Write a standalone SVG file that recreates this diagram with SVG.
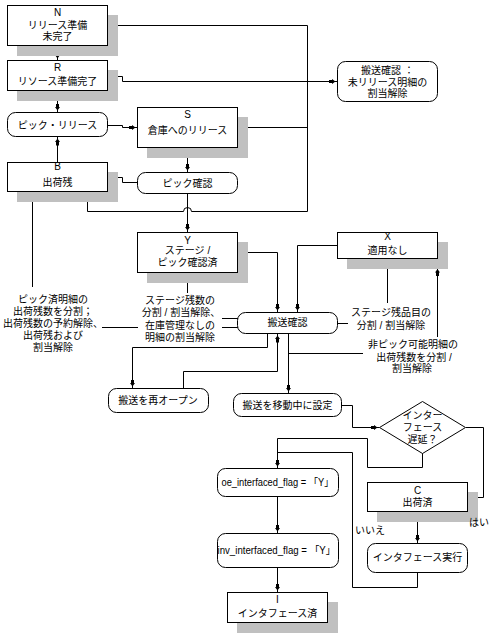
<svg xmlns="http://www.w3.org/2000/svg" width="491" height="640" viewBox="0 0 491 640">
<style>
.bx{fill:#fff;stroke:#000;stroke-width:1}
.sh{fill:#c0c0c0}
.ln{fill:none;stroke:#000;stroke-width:1}
.a{marker-end:url(#ah)}
.a2{marker-start:url(#ah);marker-end:url(#ah)}
text{font-family:"Liberation Sans","Noto Sans CJK JP",sans-serif;font-size:10px;text-anchor:middle;fill:#000}
.s{font-size:10px}
</style>
<defs>
<marker id="ah" markerUnits="userSpaceOnUse" markerWidth="9" markerHeight="6" viewBox="0 0 9 6" refX="9" refY="3" orient="auto-start-reverse">
<path d="M0,1.5 H3.5 V0.5 L7,3 L3.5,5.5 V4.5 H0 Z" fill="#000"/>
</marker>
</defs>
<rect width="491" height="640" fill="#fff"/>

<g id="connectors">
<path class="ln a" d="M57.5,45.5 V60.5"/>
<path class="ln a" d="M57.5,90.5 V112.5"/>
<path class="ln a" d="M57.5,162.5 V136.5"/>
<path class="ln a" d="M107.5,125.5 H122.5 V127.5 H137.5"/>
<path class="ln a" d="M187.5,147.5 V172.5"/>
<path class="ln a" d="M137.5,182.5 H122.5 V177.5 H107.5"/>
<path class="ln a" d="M187.5,193.5 V232.5"/>
<path class="ln a2" d="M87.5,193 V211.5 H183.5 A4,4 0 0 1 191.5,211.5 H307.5 V25.5 H107.5"/>
<path class="ln a" d="M307.5,127.5 H237.5"/>
<path class="ln a2" d="M107.5,76.5 H122.5 V81.5 H337.5"/>
<path class="ln a" d="M237.5,252.5 H277.5 V312.5"/>
<path class="ln a" d="M337.5,245.5 H297.5 V312.5"/>
<path class="ln" d="M238,327.5 H222 M138,327.5 H102"/>
<path class="ln" d="M222,318.5 H238"/>
<path class="ln a" d="M187.5,293 V272.5"/>
<path class="ln a" d="M32.5,287 V193"/>
<path class="ln a" d="M267.5,333.5 V347.5 H132.5 V388.5"/>
<path class="ln a" d="M183.5,388.5 V371.5 H277.5 V333.5"/>
<path class="ln a" d="M288.5,333.5 V393.5"/>
<path class="ln" d="M288.5,353.5 H363"/>
<path class="ln" d="M337,323.5 H348"/>
<path class="ln a" d="M387.5,303 V258.5"/>
<path class="ln a" d="M437.5,337 V267"/>
<path class="ln a" d="M341.5,405.5 H352.5 V427.5 H379.5"/>
<path class="ln a" d="M466,427.5 H483.5 V497.5 H467.5"/>
<path class="ln a" d="M422.5,453 V467.5 H367.5 V438.5 H277.5 V468.5"/>
<path class="ln" d="M417.5,572.5 V587.5 H352.5 V452.5 H277.5"/>
<path class="ln a" d="M417.5,512.5 V543.5"/>
<path class="ln a" d="M277.5,496.5 V533.5"/>
<path class="ln a" d="M277.5,567.5 V592.5"/>
</g>

<g id="node-N">
<rect class="sh" x="17" y="15" width="101" height="41"/>
<rect class="bx" x="7.5" y="5.5" width="100" height="40"/>
<text class="s" x="57.5" y="16">N</text>
<text x="57.5" y="28.8">リリース準備</text>
<text x="57.5" y="39.8">未完了</text>
</g>
<g id="node-R">
<rect class="sh" x="17" y="70" width="101" height="31"/>
<rect class="bx" x="7.5" y="60.5" width="100" height="30"/>
<text class="s" x="57.5" y="70.6">R</text>
<text x="57.5" y="85.3">リソース準備完了</text>
</g>
<g id="node-pick-release">
<rect class="bx" x="7.5" y="112.5" width="100" height="24" rx="8"/>
<text x="57.5" y="128.8">ピック・リリース</text>
</g>
<g id="node-S">
<rect class="sh" x="147" y="117" width="101" height="41"/>
<rect class="bx" x="137.5" y="107.5" width="100" height="40"/>
<text class="s" x="187.5" y="117.8">S</text>
<text x="187.5" y="134.3">倉庫へのリリース</text>
</g>
<g id="node-B">
<rect class="sh" x="17" y="172" width="101" height="30"/>
<rect class="bx" x="7.5" y="162.5" width="100" height="29"/>
<text class="s" x="57.5" y="169.6">B</text>
<text x="57.5" y="186.3">出荷残</text>
</g>
<g id="node-pick-confirm">
<rect class="bx" x="137.5" y="172.5" width="100" height="21" rx="8"/>
<text x="187.5" y="186.7">ピック確認</text>
</g>
<g id="node-ship-unassign">
<rect class="bx" x="337.5" y="61.5" width="100" height="40" rx="8"/>
<text x="387.5" y="74.3">搬送確認 ：</text>
<text x="387.5" y="85.5">未リリース明細の</text>
<text x="387.5" y="97.1">割当解除</text>
</g>
<g id="node-Y">
<rect class="sh" x="147" y="242" width="101" height="41"/>
<rect class="bx" x="137.5" y="232.5" width="100" height="40"/>
<text class="s" x="187.5" y="244">Y</text>
<text x="187.5" y="254.1">ステージ /</text>
<text x="187.5" y="265.8">ピック確認済</text>
</g>
<g id="node-X">
<rect class="sh" x="347" y="242" width="101" height="27"/>
<rect class="bx" x="337.5" y="232.5" width="100" height="26"/>
<text class="s" x="387.5" y="240.3">X</text>
<text x="387.5" y="253.8">適用なし</text>
</g>
<g id="node-ship-confirm">
<rect class="bx" x="237.5" y="312.5" width="100" height="21" rx="8"/>
<text x="287.5" y="326.3">搬送確認</text>
</g>
<g id="label-1">
<text x="53" y="302.8">ピック済明細の</text>
<text x="53" y="314.8">出荷残数を分割；</text>
<text x="53" y="326.8">出荷残数の予約解除、</text>
<text x="53" y="338.8">出荷残および</text>
<text x="53" y="350.5">割当解除</text>
</g>
<g id="label-2">
<text x="180" y="303.8">ステージ残数の</text>
<text x="181" y="315.8">分割 / 割当解除、</text>
<text x="180" y="328.8">在庫管理なしの</text>
<text x="180" y="340.8">明細の割当解除</text>
</g>
<g id="label-3">
<text x="391" y="315.8">ステージ残品目の</text>
<text x="391" y="328.8">分割 / 割当解除</text>
</g>
<g id="label-4">
<text x="413" y="347.8">非ピック可能明細の</text>
<text x="414" y="360.5">出荷残数を分割 /</text>
<text x="412" y="371.8">割当解除</text>
</g>
<g id="node-reopen">
<rect class="bx" x="108.5" y="388.5" width="100" height="24" rx="8"/>
<text x="158" y="403.5">搬送を再オープン</text>
</g>
<g id="node-in-transit">
<rect class="bx" x="233.5" y="393.5" width="108" height="23" rx="8"/>
<text x="287.5" y="408.8">搬送を移動中に設定</text>
</g>
<g id="node-defer">
<polygon class="bx" points="379.5,427.5 422.5,401.5 465.5,427.5 422.5,453.5"/>
<text x="422.5" y="419.3">インター</text>
<text x="422.5" y="431.3">フェース</text>
<text x="422.5" y="443.3">遅延？</text>
</g>
<g id="node-C">
<rect class="sh" x="377" y="492" width="101" height="30"/>
<rect class="bx" x="367.5" y="482.5" width="100" height="29"/>
<text class="s" x="417.5" y="494">C</text>
<text x="417.5" y="506.3">出荷済</text>
</g>
<g id="node-run-interface">
<rect class="bx" x="367.5" y="543.5" width="100" height="29" rx="8"/>
<text x="417.5" y="561.3">インタフェース実行</text>
</g>
<g id="node-oe">
<rect class="bx" x="217.5" y="468.5" width="121" height="28" rx="8"/>
<text x="277.5" y="485.5" textLength="112" lengthAdjust="spacingAndGlyphs">oe_interfaced_flag = 「Y」</text>
</g>
<g id="node-inv">
<rect class="bx" x="217.5" y="533.5" width="121" height="34" rx="8"/>
<text x="276.5" y="554" textLength="118" lengthAdjust="spacingAndGlyphs">inv_interfaced_flag = 「Y」</text>
</g>
<g id="node-I">
<rect class="sh" x="237" y="602" width="101" height="31"/>
<rect class="bx" x="227.5" y="592.5" width="100" height="30"/>
<text class="s" x="277.5" y="602.6">I</text>
<text x="277.5" y="616.8">インタフェース済</text>
</g>
<g id="labels-yes-no">
<text x="479" y="525.8">はい</text>
<text x="370" y="533.8">いいえ</text>
</g>
</svg>
